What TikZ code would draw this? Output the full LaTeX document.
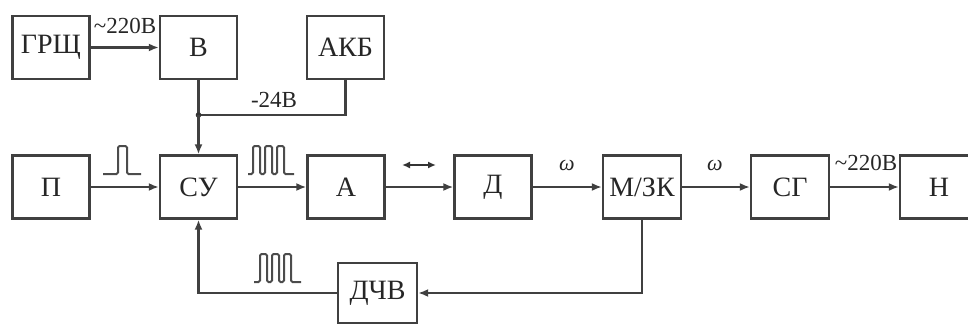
\documentclass[tikz,border=0pt]{standalone}
\usepackage{fontspec}
\setmainfont{Liberation Serif}
\usetikzlibrary{arrows.meta}
\tikzset{
  blk/.style={draw=black!75, line width=2.3pt, minimum width=77pt, minimum height=63pt, inner sep=0pt, font=\fontsize{28}{28}\selectfont, text=black!85},
  conn/.style={draw=black!75, line width=2.2pt},
  arr/.style={conn, -{Latex[length=10pt,width=8pt]}},
  lbl/.style={font=\fontsize{23}{23}\selectfont, text=black!85, inner sep=0pt},
  pulse/.style={draw=black!70, line width=2pt, rounded corners=1.5pt}
}
\begin{document}
\begin{tikzpicture}[x=1pt,y=-1pt]
\useasboundingbox (0,0) rectangle (968,326);
% top row
\node[blk] (grsch) at (51,47.5) {ГРЩ};
\node[blk] (v) at (198.5,47.5) {В};
\node[blk] (akb) at (345.5,47.5) {АКБ};
% main row
\node[blk] (p) at (51,187) {П};
\node[blk] (su) at (198.5,187) {СУ};
\node[blk] (a) at (346,187) {А};
\node[blk] (d) at (493,187) {Д};
\node[blk, minimum width=78pt] (mzk) at (642,187) {М/ЗК};
\node[blk, minimum width=78pt] (sg) at (790,187) {СГ};
\node[blk, minimum width=78pt] (n) at (939,187) {Н};
% bottom
\node[blk, minimum width=79pt, minimum height=60pt] (dchv) at (377.5,293) {ДЧВ};
\coordinate (j) at (198.5,115);
% connectors
\draw[arr] (grsch) -- (v);
\draw[conn] (v.south) -- (j);
\draw[conn] (akb.south) |- (j);
\fill[black!80] (j) circle (2.8pt);
\draw[arr] (j) -- (su.north);
\draw[arr] (p) -- (su);
\draw[arr] (su) -- (a);
\draw[arr] (a) -- (d);
\draw[arr] (d) -- (mzk);
\draw[arr] (mzk) -- (sg);
\draw[arr] (sg) -- (n);
\draw[arr] (mzk.south) |- (dchv.east);
\draw[arr] (dchv.west) -| (su.south);
% labels
\node[lbl] (l1) at (125,26) {\char"7E 220В};
\node[lbl] (l2) at (274,100) {-24В};
\node[lbl] (l3) at (866,163) {\char"7E 220В};
\node[lbl, font=\fontsize{22}{22}\selectfont\itshape] (w1) at (567,165) {ω};
\node[lbl, font=\fontsize{22}{22}\selectfont\itshape] (w2) at (715,165) {ω};
% double arrow
\draw[draw=black!80, line width=2pt, {Latex[length=8pt,width=7pt]}-{Latex[length=8pt,width=7pt]}] (402,165) -- (436,165);
% pulses
\draw[pulse] (103,174) -- (118,174) -- (118,146) -- (127,146) -- (127,174) -- (141,174);
\draw[pulse] (248,174) -- (253,174) -- (253,146) -- (260,146) -- (260,174) -- (265,174) -- (265,146) -- (272,146) -- (272,174) -- (277,174) -- (277,146) -- (284,146) -- (284,174) -- (294,174);
\draw[pulse] (254,282) -- (260,282) -- (260,254) -- (267,254) -- (267,282) -- (272,282) -- (272,254) -- (279,254) -- (279,282) -- (284,282) -- (284,254) -- (291,254) -- (291,282) -- (301,282);
\end{tikzpicture}
\end{document}
